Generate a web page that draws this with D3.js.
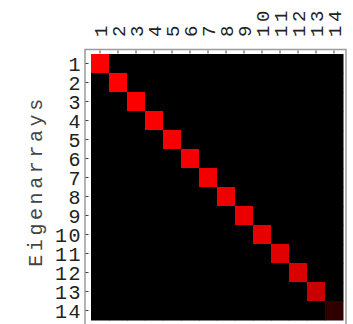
<!DOCTYPE html>
<html><head><meta charset="utf-8">
<script src="https://cdn.jsdelivr.net/npm/d3@7"></script>
<style>body{margin:0;background:#fff}svg{display:block}</style>
</head><body>
<script>
const rows = ["1","2","3","4","5","6","7","8","9","10","11","12","13","14"];
const cols = ["1","2","3","4","5","6","7","8","9","10","11","12","13","14"];
const diagonal = [1.0,1.0,0.99,0.98,0.97,0.96,0.95,0.93,0.92,0.9,0.88,0.85,0.79,0.19];
const yTitle = "Eigenarrays";

(function(){
const W = 353, H = 324;
const svg = d3.select("body").append("svg").attr("width", W).attr("height", H);
const mLeft = 91, mTop = 54, mRight = 343, mBottom = 320;
const x = d3.scaleBand().domain(cols).range([mLeft, mRight]);
const y = d3.scaleBand().domain(rows).range([mTop, mBottom]);
const color = d3.scaleLinear().domain([0,1]).range(["#000000","#ff0000"]);

const cells = [];
rows.forEach((r,i)=>cols.forEach((c,j)=>cells.push({r,c,v: i===j ? diagonal[i] : 0})));

// frame
svg.append("rect").attr("x",85).attr("y",49.5).attr("width",261).attr("height",290)
  .attr("fill","#fff").attr("stroke","#9a9a9a").attr("stroke-width",1.5);

svg.append("g").selectAll("rect").data(cells).join("rect")
  .attr("x",d=>x(d.c)).attr("y",d=>y(d.r))
  .attr("width",x.bandwidth()+0.5).attr("height",y.bandwidth()+0.5)
  .attr("fill",d=>color(d.v));

// ticks
const topAxis = d3.axisTop(x).tickSize(-3).tickFormat("");
svg.append("g").attr("transform","translate(0,50.5)").call(topAxis)
  .call(g=>{g.select(".domain").remove();g.selectAll("line").attr("stroke","#444");});
const leftAxis = d3.axisLeft(y).tickSize(-3).tickFormat("");
svg.append("g").attr("transform","translate(85.5,0)").call(leftAxis)
  .call(g=>{g.select(".domain").remove();g.selectAll("line").attr("stroke","#444");});

const font = "'Liberation Mono', 'DejaVu Sans Mono', monospace";
// top labels
svg.append("g").selectAll("text").data(cols).join("text")
  .attr("transform",d=>`translate(${x(d)+x.bandwidth()/2+6.5},37) rotate(-90)`)
  .attr("text-anchor","start").attr("font-family",font).attr("font-size",19)
  .attr("letter-spacing",3.5).attr("fill","#222").text(d=>d);
// left labels
svg.append("g").selectAll("text").data(rows).join("text")
  .attr("x",82).attr("y",d=>y(d)+y.bandwidth()/2+7)
  .attr("text-anchor","end").attr("font-family",font).attr("font-size",20)
  .attr("letter-spacing",1.5).attr("fill","#222").text(d=>d);
// y title
svg.append("text").attr("transform","translate(42,181) rotate(-90)")
  .attr("text-anchor","middle").attr("font-family",font).attr("font-size",20)
  .attr("letter-spacing",3.6).attr("fill","#444").text(yTitle);
})();
</script>
</body></html>
